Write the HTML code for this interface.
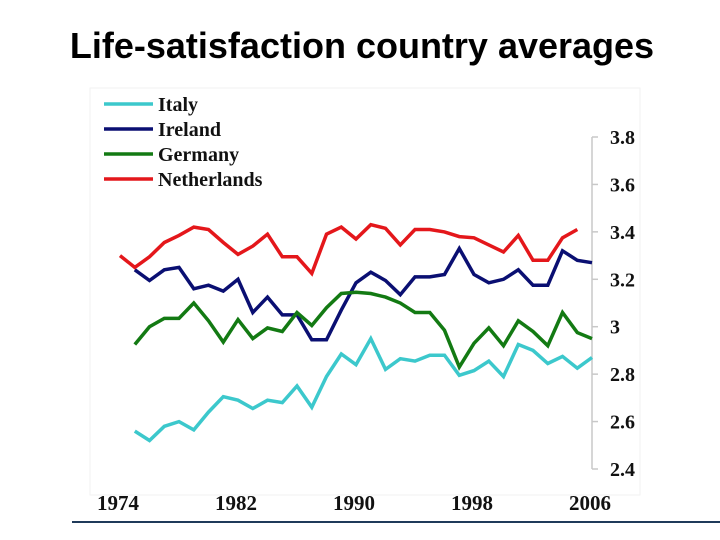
<!DOCTYPE html>
<html><head><meta charset="utf-8"><style>
html,body{margin:0;padding:0;background:#fff;}
svg{display:block;}
</style></head><body>
<svg width="720" height="540" viewBox="0 0 720 540">
<text x="362" y="58" text-anchor="middle" font-family="Liberation Sans, sans-serif" font-size="36" font-weight="bold" fill="#000">Life-satisfaction country averages</text>
<rect x="90" y="88" width="550" height="407" fill="none" stroke="#f2f2f2" stroke-width="1"/>
<line x1="72" y1="522" x2="720" y2="522" stroke="#1f3a5a" stroke-width="2"/>
<line x1="592" y1="137" x2="592" y2="469" stroke="#c8c8c8" stroke-width="1.5"/>
<g id="yticks"></g>
<g id="xticks"></g>
<g id="series"></g>
<g id="legend"></g>
</svg>
<script>
const years = [1974,1975,1976,1977,1978,1979,1980,1981,1982,1983,1984,1985,1986,1987,1988,1989,1990,1991,1992,1993,1994,1995,1996,1997,1998,1999,2000,2001,2002,2003,2004,2005,2006];
const italy = [null,2.56,2.52,2.58,2.60,2.565,2.64,2.705,2.69,2.655,2.69,2.68,2.75,2.66,2.79,2.885,2.84,2.95,2.82,2.865,2.855,2.88,2.88,2.795,2.815,2.855,2.79,2.925,2.90,2.845,2.875,2.825,2.87];
const ireland = [null,3.24,3.195,3.24,3.25,3.16,3.175,3.15,3.20,3.06,3.125,3.05,3.05,2.945,2.945,3.07,3.185,3.23,3.195,3.135,3.21,3.21,3.22,3.33,3.22,3.185,3.20,3.24,3.175,3.175,3.32,3.28,3.27];
const germany = [null,2.925,3.00,3.035,3.035,3.10,3.025,2.935,3.03,2.95,2.995,2.98,3.06,3.005,3.08,3.14,3.145,3.14,3.125,3.10,3.06,3.06,2.985,2.83,2.93,2.995,2.92,3.025,2.98,2.92,3.06,2.975,2.95];
const netherlands = [3.30,3.25,3.295,3.355,3.385,3.42,3.41,3.355,3.305,3.34,3.39,3.295,3.295,3.225,3.39,3.42,3.37,3.43,3.415,3.345,3.41,3.41,3.40,3.38,3.375,3.345,3.315,3.385,3.28,3.28,3.375,3.41,null];
const yTicks = [2.4,2.6,2.8,3,3.2,3.4,3.6,3.8];
const yTickLabels = ["2.4","2.6","2.8","3","3.2","3.4","3.6","3.8"];
const xTickYears = [1974,1982,1990,1998,2006];
const seriesNames = ["Italy","Ireland","Germany","Netherlands"];
const seriesColors = ["#3cc8cc","#0a0f72","#137a13","#e4171b"];

const NS="http://www.w3.org/2000/svg";
const x = yr => 120 + (yr-1974)*(592-120)/32;
const y = v => 469 - (v-2.4)*(469-137)/1.4;
function mk(tag, attrs, parent){const e=document.createElementNS(NS,tag);for(const k in attrs)e.setAttribute(k,attrs[k]);parent.appendChild(e);return e;}

const yg=document.getElementById('yticks');
yTicks.forEach((v,i)=>{
  const t=mk('line',{x1:592,x2:598,y1:y(v),y2:y(v),stroke:'#c8c8c8','stroke-width':1.5},yg);
  
  
  const l=mk('text',{x:610,y:y(v)+7,'font-family':'Liberation Serif, serif','font-size':20,'font-weight':'bold',fill:'#111'},yg);
  l.textContent=yTickLabels[i];
  
  
});
const xg=document.getElementById('xticks');
xTickYears.forEach(yr=>{
  const l=mk('text',{x:x(yr)-2,y:510,'text-anchor':'middle','font-family':'Liberation Serif, serif','font-size':21,'font-weight':'bold',fill:'#111'},xg);
  l.textContent=String(yr);
  
  
});
const sg=document.getElementById('series');
[italy,ireland,germany,netherlands].forEach((arr,si)=>{
  const pts=[];
  arr.forEach((v,i)=>{if(v!==null)pts.push(x(years[i]).toFixed(1)+','+y(v).toFixed(1));});
  const p=mk('polyline',{points:pts.join(' '),fill:'none',stroke:seriesColors[si],'stroke-width':3.5,'stroke-linejoin':'miter'},sg);
  
  
});
const lg=document.getElementById('legend');
const ly=[104,129,154,179];
seriesNames.forEach((n,i)=>{
  const ln=mk('line',{x1:104,x2:153,y1:ly[i],y2:ly[i],stroke:seriesColors[i],'stroke-width':3.5},lg);
  
  
  const t=mk('text',{x:158,y:ly[i]+7,'font-family':'Liberation Serif, serif','font-size':20,'font-weight':'bold',fill:'#111'},lg);
  t.textContent=n;
  
  
});
</script>
</body></html>
